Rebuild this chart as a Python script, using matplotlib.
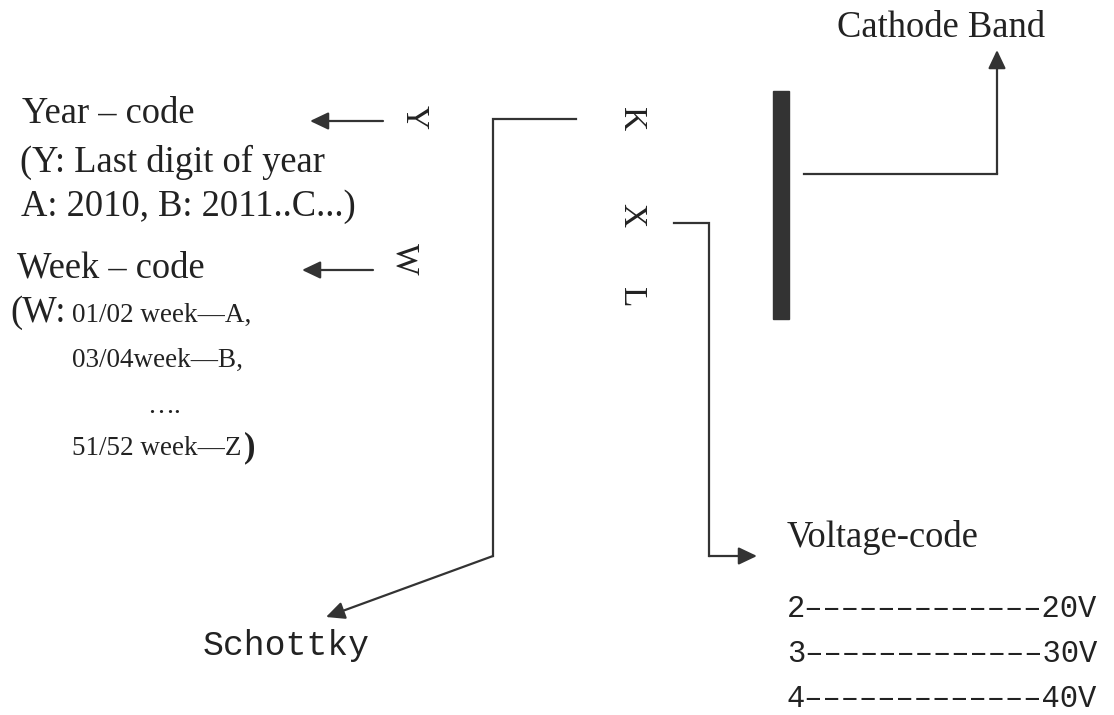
import matplotlib.pyplot as plt
from matplotlib.patches import Rectangle

# marking letters on the part, read top to bottom
left_marks = ["Y", "W"]
right_marks = ["K", "X", "L"]

year_lines = ["Year \u2013 code", "(Y: Last digit of year", "A: 2010, B: 2011..C...)"]
week_title = "Week \u2013 code"
week_lines = ["01/02 week\u2014A,", "03/04week\u2014B,", "\u2026.", "51/52 week\u2014Z"]
volt_codes = ["2", "3", "4"]
volt_values = ["20V", "30V", "40V"]

INK = "#333333"
TXT = "#222222"
SERIF = ["Liberation Serif", "DejaVu Serif"]
MONO = ["Liberation Mono", "DejaVu Sans Mono"]

fig = plt.figure(figsize=(11.14, 7.15), dpi=100)
ax = fig.add_axes([0, 0, 1, 1])
ax.set_xlim(0, 1114)
ax.set_ylim(715, 0)
ax.axis("off")


def arrow(path, lw=1.6):
    # polyline, with a filled head on the last segment
    xs, ys = zip(*path)
    if len(path) > 2:
        ax.plot(xs[:-1], ys[:-1], color=INK, lw=lw, solid_joinstyle="miter")
    ax.annotate("", xy=path[-1], xytext=path[-2],
                arrowprops=dict(arrowstyle="-|>,head_length=0.8,head_width=0.38",
                                mutation_scale=14, color=INK, lw=lw,
                                shrinkA=0, shrinkB=0))


# rotated letters
for ch, (x, y) in zip(left_marks, [(414, 117), (405, 259)]):
    ax.text(x, y, ch, rotation=-90, ha="center", va="center",
            fontsize=24, family=SERIF, color=TXT)
for ch, (x, y) in zip(right_marks, [(631, 119), (631, 215), (631, 297)]):
    ax.text(x, y, ch, rotation=-90, ha="center", va="center",
            fontsize=24, family=SERIF, color=TXT)

# cathode band
ax.add_patch(Rectangle((773, 91), 16, 228, color=INK))

# leaders
arrow([(383, 121), (310, 121)])
arrow([(373, 270), (302, 270)])
arrow([(576, 119), (493, 119), (493, 556), (326, 617)])
arrow([(674, 223), (709, 223), (709, 556), (757, 556)])
arrow([(804, 174), (997, 174), (997, 50)])

# left block
ax.text(941, 37, "Cathode Band", ha="center", va="baseline",
        fontsize=26.3, family=SERIF, color=TXT)
for s, (x, y) in zip(year_lines, [(22, 123), (20, 172), (21, 216)]):
    ax.text(x, y, s, ha="left", va="baseline", fontsize=26.3, family=SERIF, color=TXT)
ax.text(17, 277, week_title, ha="left", va="baseline", fontsize=26.3, family=SERIF, color=TXT)
ax.text(10, 322, "(W:", ha="left", va="baseline", fontsize=26.3, family=SERIF, color=TXT)
for s, (x, y) in zip(week_lines, [(72, 322), (72, 367), (147, 413), (72, 455)]):
    ax.text(x, y, s, ha="left", va="baseline", fontsize=19.5, family=SERIF, color=TXT)
ax.text(244, 456, ")", ha="left", va="baseline", fontsize=25, family=SERIF,
        weight="bold", color=TXT)

# Schottky and voltage codes
ax.text(286, 655, "Schottky", ha="center", va="baseline", fontsize=25, family=MONO, color=TXT)
ax.text(787, 547, "Voltage-code", ha="left", va="baseline", fontsize=26.3, family=SERIF, color=TXT)
for i, (c, v) in enumerate(zip(volt_codes, volt_values)):
    y = 617 + i * 45
    ax.text(787, y, c + "\u2013" * 13 + v, ha="left", va="baseline",
            fontsize=22, family=MONO, color=TXT)

fig.savefig("out.png", dpi=100)
